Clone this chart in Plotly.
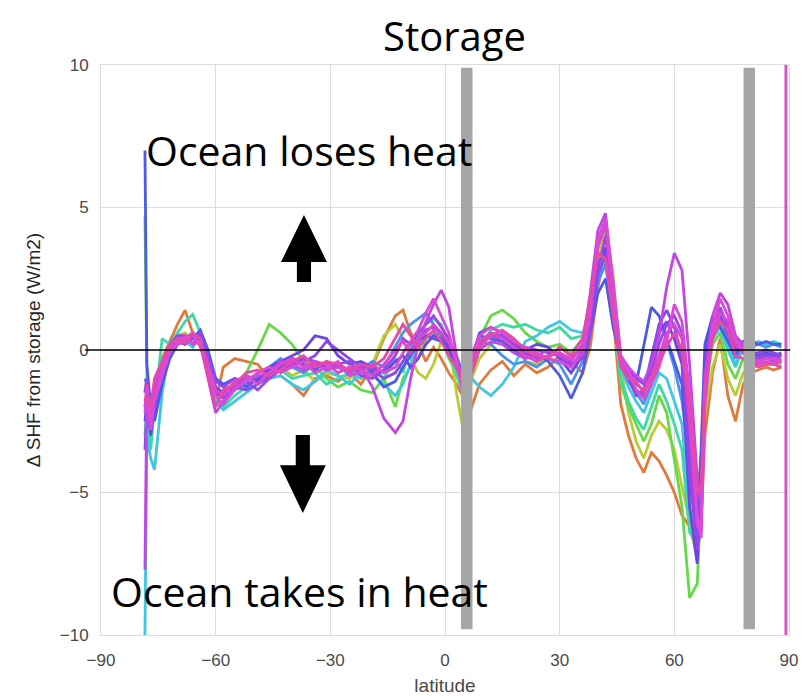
import plotly.graph_objects as go

# ---------------- data ----------------
lat = [-78.5, -78, -77, -76, -74, -72, -70, -68, -66, -64, -62, -60, -58, -55, -52, -49, -46, -43, -40, -37,
       -34, -31, -28, -25, -22, -19, -16, -13, -11, -9, -7, -5, -3, -1, 1, 3, 5, 7, 9, 12,
       15, 18, 21, 24, 27, 30, 33, 36, 38, 40, 42, 44, 46, 48, 50, 52, 54, 56, 58, 60,
       62, 64, 66, 67, 68, 70, 72, 74, 76, 78, 80, 82, 84, 86, 88]

s_orange = [-1.5, -1.0, -2.0, -1.2, -0.3, 0.3, 0.9, 1.4, 0.6, 0.4, -0.8, -1.8, -0.6, -0.3, -0.4, -0.5, -1.0, -0.9, -1.2, -1.6,
            -1.0, -0.9, -1.1, -0.8, -1.2, -0.6, 0.4, 1.2, 1.4, 0.6, 0.2, -0.4, 0.1, -0.3, -0.8, -1.2, -1.7, -2.0, -1.2, -0.7,
            -0.4, -0.9, -0.5, -0.8, -0.6, -0.2, -0.4, -0.8, 0.1, 2.2, 3.4, 1.2, -1.9, -3.0, -3.8, -4.3, -3.6, -3.9, -4.4, -5.0,
            -5.8, -6.2, -7.2, -6.0, -3.0, -0.8, 0.4, -1.6, -2.5, -1.2, -0.8, -0.7, -0.6, -0.7, -0.6]
s_yellowgreen = [-2.0, -1.5, -2.2, -1.5, -0.6, 0.1, 0.5, 0.6, 0.3, 0.2, -0.9, -1.4, -1.5, -1.1, -0.9, -1.0, -0.7, -0.6, -0.9, -0.7,
                 -1.1, -0.8, -0.9, -1.0, -0.7, -0.5, 0.5, 0.9, 0.4, -0.3, -0.8, -1.0, -0.5, 0.3, 0.4, -1.5, -3.0, -1.0, -0.3, 0.2,
                 0.5, 0.3, -0.4, -0.5, -0.3, 0.1, -0.2, 0.0, 1.0, 3.2, 4.4, 2.6, -0.6, -2.2, -3.2, -3.8, -3.0, -2.5, -2.8, -3.5,
                 -4.8, -6.0, -7.4, -5.2, -2.2, -0.6, 0.2, -1.0, -1.6, -0.8, -0.6, -0.4, -0.5, -0.5, -0.4]
s_green = [4.7, -1.0, -2.4, -1.6, -0.4, 0.2, 0.4, 0.5, 0.2, 0.4, -0.5, -1.3, -1.6, -1.4, -0.8, 0.0, 0.9, 0.6, 0.2, -0.4,
           -0.6, -1.0, -1.3, -1.1, -1.4, -1.5, -1.0, -2.0, -1.0, -0.6, -0.3, 0.4, 0.6, 0.5, -0.3, -0.8, -1.2, -0.3, 0.4, 1.2,
           1.4, 1.1, 0.6, 0.3, 0.1, 0.2, -0.1, 0.4, 1.8, 3.8, 4.2, 1.5, -1.2, -2.0, -2.6, -3.2, -2.6, -1.6, -2.2, -3.8,
           -5.5, -8.7, -8.2, -5.0, -1.5, 0.2, 0.6, -0.5, -1.0, -0.3, -0.4, -0.3, -0.2, -0.3, -0.5]
s_teal = [-3.0, -2.0, -3.5, -2.0, 0.4, 0.2, 0.6, 1.0, 1.25, 0.6, -0.6, -1.7, -2.0, -1.6, -1.3, -1.0, -0.8, -0.7, -1.0, -0.9,
          -0.8, -1.2, -1.0, -0.8, -1.0, -0.6, -1.0, -0.3, -0.8, 0.2, 0.5, 0.9, 1.1, 0.9, 0.2, -0.9, -1.6, -0.6, 0.0, 0.7,
          0.9, 0.8, 0.9, 0.7, 0.6, 0.8, 0.4, 0.5, 1.4, 3.0, 3.6, 1.4, -1.0, -1.8, -2.4, -2.8, -2.0, -1.2, -1.8, -2.6,
          -3.5, -6.4, -6.8, -4.0, -1.0, 0.6, 1.0, 0.2, -0.5, 0.0, -0.2, -0.1, 0.0, -0.1, -0.2]
s_cyan = [-10.0, -3.0, -3.8, -4.2, -1.5, 0.1, 0.4, 0.3, 0.1, 0.5, -0.8, -1.8, -2.1, -1.8, -1.5, -1.2, -1.0, -0.9, -1.2, -1.4,
          -1.1, -0.7, -0.9, -1.2, -0.8, -0.9, -1.2, -1.6, -1.2, -0.5, 0.2, 0.5, 0.6, 0.4, 0.0, -0.7, -1.1, -1.0, -1.3, -1.6,
          -1.2, -0.6, 0.3, 0.5, 0.8, 1.0, 0.7, 0.6, 1.2, 2.6, 3.2, 1.6, -0.6, -1.3, -1.8, -2.2, -1.5, -0.8, -1.0, -1.8,
          -2.6, -5.5, -6.6, -4.5, -1.2, 0.4, 0.8, 0.0, -0.6, 0.1, 0.2, 0.3, 0.2, 0.3, 0.2]
s_lightblue = [-1.0, -1.2, -2.6, -2.2, -0.9, -0.2, 0.3, 0.2, 0.5, 0.3, -0.4, -1.0, -1.3, -1.4, -1.2, -0.8, -0.6, -0.3, -0.6, -0.8,
               -0.5, -0.6, -0.5, -0.9, -0.7, -0.4, -0.6, 0.1, 0.6, 0.9, 1.1, 1.3, 0.9, 0.5, 0.3, -0.2, -0.9, -0.4, 0.3, 0.2,
               -0.2, -0.5, -0.4, -0.6, -0.3, -0.5, -1.2, -0.4, 0.8, 2.4, 3.0, 1.0, -0.5, -1.1, -1.5, -1.9, -1.2, -0.3, 0.3, -0.6,
               -1.8, -4.0, -5.6, -3.8, -0.6, 0.8, 1.2, 0.4, -0.3, 0.2, 0.1, 0.2, 0.1, 0.2, 0.1]
s_blue = [7.0, -0.5, -2.0, -2.5, -1.2, -0.3, 0.2, 0.3, 0.4, 0.7, 0.0, -1.0, -1.2, -1.0, -1.3, -1.0, -0.7, -0.5, -0.4, -0.5,
          -0.7, -0.4, -0.6, -0.7, -0.5, -0.8, -1.3, -1.1, -0.6, -0.2, 0.3, 0.5, 0.4, 0.3, 0.0, -0.6, -1.0, -0.2, 0.5, 0.4,
          0.3, 0.0, -0.2, -0.1, -0.4, -0.9, -1.7, -0.8, 0.6, 2.0, 2.5, 0.8, -0.3, -0.8, -1.2, 0.2, 1.5, 1.2, 0.4, -0.4,
          -1.2, -4.8, -6.0, -3.5, 0.2, 1.2, 0.8, 0.3, -0.2, 0.3, 0.3, 0.2, 0.3, 0.2, 0.2]
s_indigo = [-2.5, -1.8, -3.0, -2.0, -0.7, 0.0, 0.2, 0.4, 0.6, 0.3, -0.5, -1.3, -1.5, -1.2, -0.9, -1.1, -0.6, -0.4, -0.2, 0.0,
            0.5, 0.4, -0.2, -0.5, -0.4, -0.6, -0.8, -0.4, -0.2, -0.6, -0.3, 0.2, 0.5, 0.4, 0.1, -0.5, -1.0, -0.3, 0.6, 0.8,
            0.6, 0.2, 0.0, 0.2, 0.1, -0.3, -0.8, -0.2, 1.0, 3.0, 3.6, 1.6, -0.4, -0.9, -1.4, -1.6, -0.6, 0.6, 1.0, 0.4,
            -0.5, -5.5, -7.5, -4.5, -0.2, 1.0, 1.2, 0.6, 0.0, 0.2, -0.1, -0.2, -0.1, -0.2, -0.1]
s_purple = [-1.5, -1.0, -2.2, -1.4, -0.5, 0.2, 0.5, 0.5, 0.2, 0.5, -0.2, -1.1, -1.3, -1.0, -1.1, -1.4, -1.0, -0.7, -0.5, -0.3,
            -0.4, -0.6, -0.5, -0.4, -0.9, -1.0, -0.7, -0.2, 0.4, 0.2, 0.6, 0.9, 1.2, 0.8, 0.4, -0.3, -1.1, -0.5, 0.2, 0.5,
            0.4, 0.1, -0.1, -0.3, -0.2, -0.1, -0.5, -0.3, 0.6, 2.8, 4.0, 2.0, -0.3, -0.7, -1.0, -1.2, -0.8, 0.2, 0.9, 1.2,
            0.6, -3.5, -7.0, -5.2, -0.8, 0.9, 1.5, 0.8, 0.2, 0.1, -0.2, -0.3, -0.2, -0.3, -0.2]
s_purple2 = [-3.5, -2.0, -2.8, -1.9, -0.8, 0.1, 0.3, 0.2, 0.4, 0.6, -0.3, -1.5, -1.7, -1.3, -1.4, -1.2, -0.9, -0.6, -0.3, -0.4,
             -0.2, 0.3, 0.0, -0.3, -0.6, -0.7, -1.0, -0.8, -0.4, 0.0, 0.4, 0.7, 0.8, 0.6, 0.2, -0.4, -0.9, -0.4, 0.3, 0.6,
             0.5, 0.2, 0.1, 0.0, -0.1, -0.2, -0.6, 0.0, 0.8, 2.6, 3.4, 1.4, -0.5, -1.0, -1.6, -1.4, -0.3, 0.9, 1.4, 0.8,
             -0.2, -4.5, -6.8, -6.4, -1.2, 0.8, 1.1, 0.6, 0.1, 0.2, -0.1, -0.1, 0.0, -0.1, -0.2]
s_violet = [-7.7, -1.5, -2.6, -1.2, -0.6, 0.1, 0.4, 0.3, 0.5, 0.2, -1.0, -2.2, -1.8, -1.3, -1.0, -0.9, -0.8, -0.4, -0.5, -0.7,
            -0.5, -0.7, -0.6, -0.8, -0.6, -1.3, -2.4, -2.9, -2.5, -1.0, 0.2, 1.0, 1.6, 2.1, 1.5, -0.2, -1.8, -0.8, 0.0, 0.3,
            0.2, -0.1, -0.3, -0.2, 0.0, -0.2, -0.4, 0.2, 2.0, 4.2, 4.8, 2.2, -0.2, -0.6, -0.9, -1.1, -0.5, 0.5, 2.2, 3.4,
            2.8, -0.5, -4.5, -5.5, -1.0, 1.2, 2.0, 1.6, 0.5, 0.2, -0.3, -0.4, -0.3, -0.4, -0.3]
s_magenta = [-2.0, -1.2, -2.4, -1.6, -0.7, 0.0, 0.3, 0.5, 0.2, 0.3, -0.5, -1.4, -1.6, -1.1, -0.9, -1.2, -0.8, -0.5, -0.3, -0.6,
             -0.4, -0.5, -0.8, -0.6, -0.7, -0.9, -0.5, 0.0, 0.3, -0.1, 0.4, 0.6, 0.9, 0.6, 0.3, -0.4, -1.2, -0.5, 0.3, 0.6,
             0.4, 0.1, -0.2, -0.4, -0.2, -0.1, -0.3, 0.1, 1.5, 3.6, 4.4, 1.8, -0.4, -0.8, -1.2, -1.4, -0.9, -0.2, 0.6, 0.9,
             0.4, -2.5, -6.2, -6.0, -1.5, 0.6, 1.3, 1.0, 0.2, -0.1, -0.4, -0.5, -0.4, -0.5, -0.4]
s_magenta2 = [-2.2, -1.4, -2.8, -1.8, -0.9, -0.1, 0.2, 0.4, 0.6, 0.1, -0.7, -1.6, -1.9, -1.4, -1.1, -0.8, -0.6, -0.8, -0.6, -0.4,
              -0.8, -0.6, -0.4, -0.9, -0.8, -0.5, -0.8, -0.6, -0.1, 0.3, 0.7, 1.3, 1.8, 1.2, 0.6, -0.5, -1.5, -0.2, 0.5, 0.8,
              0.6, 0.3, 0.1, -0.1, -0.3, -0.4, -0.6, -0.1, 1.2, 3.9, 4.6, 2.4, -0.2, -0.7, -1.4, -1.7, -1.2, -0.6, 0.3, 1.6,
              1.0, -1.5, -5.8, -6.6, -2.0, 0.8, 1.8, 1.2, 0.4, 0.0, -0.3, -0.4, -0.3, -0.3, -0.4]
s_pink = [-1.8, -1.6, -2.0, -1.0, -0.4, 0.2, 0.4, 0.2, 0.6, 0.4, -0.9, -2.0, -1.4, -1.2, -0.8, -0.7, -0.9, -0.7, -0.4, -0.2,
          -0.6, -0.4, -0.5, -0.7, -0.5, -0.6, -0.3, 0.4, 0.9, 0.5, 0.1, 0.4, 0.7, 0.3, -0.2, -0.6, -1.4, -0.7, 0.1, 0.5,
          0.7, 0.4, 0.0, -0.2, -0.3, 0.1, -0.2, 0.4, 1.8, 3.4, 3.2, 1.2, -0.6, -1.0, -1.1, -1.5, -1.0, -0.4, 0.1, 0.6,
          0.0, -2.0, -5.0, -4.8, -1.2, 0.4, 1.0, 0.7, -0.2, -0.3, -0.5, -0.6, -0.5, -0.5, -0.6]

series = [s_orange, s_yellowgreen, s_green, s_teal, s_cyan, s_lightblue,
          s_blue, s_indigo, s_purple, s_purple2, s_violet, s_magenta, s_magenta2, s_pink]
colors = ["#e07a3c", "#b9cc36", "#66d94a", "#3fd8a6", "#3fc6e2", "#4a92ea",
          "#4c5ae4", "#6b46e4", "#9a46e6", "#8a4ae8", "#c446e2", "#de46cc", "#d94ad8", "#e64aa8"]

x_ticks = [-90, -60, -30, 0, 30, 60, 90]
y_ticks = [-10, -5, 0, 5, 10]

band_lats = [5.7, 79.6]      # grey vertical bands
edge_lat = 89.2              # thin magenta line at pole

# ---------------- figure ----------------
fig = go.Figure()
for vals, col in zip(series, colors):
    fig.add_trace(go.Scatter(x=lat, y=vals, mode="lines",
                             line=dict(color=col, width=2.8), showlegend=False,
                             hoverinfo="skip"))

shapes = []
for b in band_lats:
    shapes.append(dict(type="rect", xref="x", yref="y", x0=b - 1.5, x1=b + 1.5,
                       y0=-9.8, y1=9.9, fillcolor="#a6a6a6", line=dict(width=0),
                       layer="above"))
shapes.append(dict(type="line", xref="x", yref="y", x0=edge_lat, x1=edge_lat,
                   y0=-10, y1=10, line=dict(color="#d457c8", width=3), layer="above"))
shapes.append(dict(type="line", xref="paper", yref="y", x0=-0.023, x1=1.002,
                   y0=0, y1=0, line=dict(color="black", width=1.5), layer="above"))

# arrows
ax = -36.9
hw, sw = 6.0, 1.85
up = (f"M {ax-sw},2.39 L {ax+sw},2.39 L {ax+sw},3.09 L {ax+hw},3.09 "
      f"L {ax},4.74 L {ax-hw},3.09 L {ax-sw},3.09 Z")
ax2 = -37.2
down = (f"M {ax2-sw},-2.98 L {ax2+sw},-2.98 L {ax2+sw},-4.04 L {ax2+hw},-4.04 "
        f"L {ax2},-5.72 L {ax2-hw},-4.04 L {ax2-sw},-4.04 Z")
for p in (up, down):
    shapes.append(dict(type="path", xref="x", yref="y", path=p,
                       fillcolor="black", line=dict(width=0), layer="above"))

big = dict(family="Open Sans", size=41, color="black")
annotations = [
    dict(text="Storage", xref="paper", yref="paper", x=0.5145, y=1.051,
         xanchor="center", yanchor="middle", showarrow=False,
         font=dict(family="Open Sans", size=40, color="black")),
    dict(text="Ocean loses heat", xref="paper", yref="paper", x=0.062, y=0.851,
         xanchor="left", yanchor="middle", showarrow=False, font=big),
    dict(text="Ocean takes in heat", xref="paper", yref="paper", x=0.011, y=0.077,
         xanchor="left", yanchor="middle", showarrow=False, font=big),
]

fig.update_layout(
    width=801, height=688,
    margin=dict(l=93, r=20, t=57, b=61, autoexpand=False),
    paper_bgcolor="white", plot_bgcolor="white",
    shapes=shapes, annotations=annotations,
    font=dict(family="Liberation Sans, Arial", color="#444444"),
    xaxis=dict(range=[-90, 90], tickvals=x_ticks, showgrid=True, automargin=False,
               gridcolor="#dcdcdc", gridwidth=1, zeroline=False,
               showline=True, linecolor="#dcdcdc", mirror=True,
               tickfont=dict(size=17, color="#4a4a4a"), ticklabelstandoff=10,
               title=dict(text="latitude", font=dict(size=19, color="#4a4a4a"),
                          standoff=9)),
    yaxis=dict(range=[-10, 10], tickvals=y_ticks, showgrid=True, automargin=False,
               gridcolor="#dcdcdc", gridwidth=1, zeroline=False,
               showline=True, linecolor="#dcdcdc", mirror=True,
               tickfont=dict(size=17, color="#4a4a4a"), ticklabelstandoff=8,
               title=dict(text="Δ SHF from storage (W/m2)",
                          font=dict(size=19, color="#262626"), standoff=14)),
)

fig.write_html("out.html")
